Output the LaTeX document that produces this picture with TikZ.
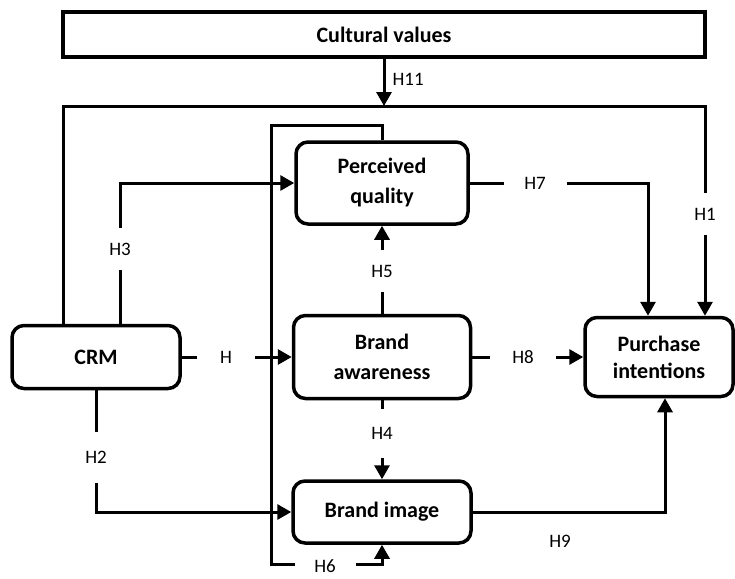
\documentclass[tikz,border=0pt]{standalone}
\usepackage{fontspec}
\setmainfont{Carlito}
\usetikzlibrary{arrows.meta}

\tikzset{
  box/.style={draw, line width=3.5pt, rounded corners=12pt, align=center,
    inner sep=0pt, font=\bfseries\fontsize{22}{30}\selectfont},
  link/.style={line width=3pt},
  arr/.style={link, -{Triangle[length=14pt, width=15pt]}},
  hyp/.style={font=\fontsize{19}{22}\selectfont},
  gap/.style={hyp, fill=white, inner sep=0pt}
}

\begin{document}
\begin{tikzpicture}[x=1pt, y=-1pt]
    \useasboundingbox (0, 0) rectangle (735, 578);

    \node[box, sharp corners, minimum width=642pt, minimum height=45pt]
      (cult) at (384, 34.5) {Cultural values};
    \node[box, minimum width=168pt, minimum height=63pt] (crm) at (96, 357) {CRM};
    \node[box, minimum width=172pt, minimum height=82pt] (pq) at (382, 183) {Perceived\\quality};
    \node[box, minimum width=177pt, minimum height=83pt] (ba) at (382, 357) {Brand\\awareness};
    \node[box, minimum width=178pt, minimum height=62pt] (bi) at (382, 512) {Brand image};
    \node[box, minimum width=148pt, minimum height=79pt, font=\bfseries\fontsize{22}{27}\selectfont]
      (pi) at (659, 357) {Purchase\\intentions};

    \coordinate (tl) at (63, 106);
    \coordinate (tr) at (705, 106);
    \coordinate (h3c) at (120, 183);
    \coordinate (h7c) at (648, 183);
    \coordinate (loopt) at (271, 125);
    \coordinate (loopb) at (271, 564);

    \draw[arr] (cult.south) -- (cult.south |- tl);
    \draw[arr] (crm.north -| tl) -- (tl) -- (tr) -- (tr |- pi.north);
    \draw[arr] (crm.north -| h3c) -- (h3c) -- (pq.west);
    \draw[arr] (pq.east) -- (h7c) -- (h7c |- pi.north);
    \draw[arr] (ba.north) -- (pq.south);
    \draw[arr] (crm.east) -- (ba.west);
    \draw[arr] (ba.east) -- (pi.west);
    \draw[arr] (ba.south) -- (bi.north);
    \draw[arr] (crm.south) |- (bi.west);
    \draw[arr] (bi.east) -| ([xshift=6pt]pi.south);
    \draw[arr] (pq.north) |- (loopt) -- (loopb) -| (bi.south);

    \node[hyp, anchor=west] (h11) at (389, 79) {H11};
    \node[gap, minimum height=42pt] (h1) at (705, 214) {H1};
    \node[gap, minimum height=42pt] (h3) at (120, 249) {H3};
    \node[gap, minimum width=63pt] (h7) at (535, 183) {H7};
    \node[gap, minimum height=42pt] (h5) at (382, 271) {H5};
    \node[gap, minimum width=58pt] (h) at (226, 357) {H};
    \node[gap, minimum width=66pt] (h8) at (523, 357) {H8};
    \node[gap, minimum height=49pt] (h4) at (382, 433) {H4};
    \node[gap, minimum height=51pt] (h2) at (96, 457) {H2};
    \node[gap, minimum width=61pt] (h6) at (325, 566) {H6};
    \node[hyp] (h9) at (560, 541) {H9};
\end{tikzpicture}
\end{document}
